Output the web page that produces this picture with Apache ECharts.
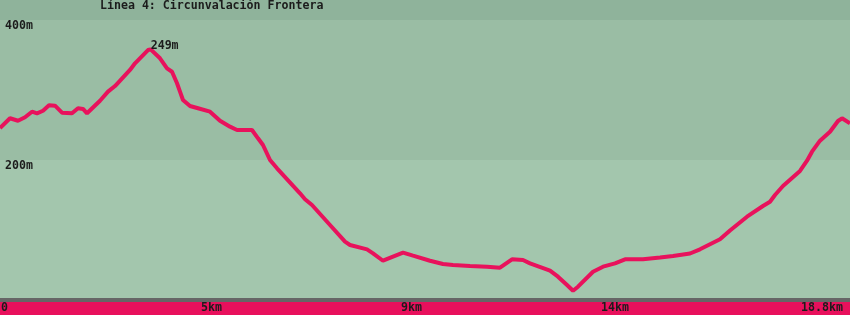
<!DOCTYPE html>
<html>
<head>
<meta charset="utf-8">
<script src="https://cdn.jsdelivr.net/npm/echarts@6/dist/echarts.min.js"></script>
<style>
html,body{margin:0;padding:0;background:#e8105c;}
#chart{width:850px;height:315px;}
</style>
</head>
<body>
<div id="chart"></div>
<script>
// Title
const chartTitle = 'Línea 4: Circunvalación Frontera';
// Distance along route (km)
const distanceKm = [0,0.235,0.423,0.588,0.752,0.870,1.011,1.152,1.293,1.457,1.692,1.833,1.951,2.045,2.35,2.538,2.703,3.055,3.173,3.478,3.541,3.76,3.925,4.042,4.16,4.23,4.30,4.465,4.653,4.935,5.17,5.405,5.57,5.922,6.063,6.18,6.345,6.51,7.05,7.168,7.332,7.755,8.108,8.225,8.625,8.766,9.0,9.471,9.706,10.105,10.41,10.646,11.045,11.445,11.75,12.032,12.29,12.455,12.925,13.113,13.325,13.466,13.583,13.936,14.171,14.453,14.688,15.111,15.51,15.816,16.215,16.45,16.92,17.155,17.555,17.93,18.095,18.213,18.40,18.8,18.965,19.082,19.27,19.505,19.693,19.787,19.975];
// Elevation (m)
const elevationM = [245.7,259.6,256.1,261.0,269.0,266.7,270.4,278.1,277.6,267.6,266.7,273.9,272.9,266.7,284.7,297.6,305.7,328.6,338.1,357.1,358.1,345.3,331.0,326.1,309.6,297.6,285.7,277.1,273.9,269.0,256.1,247.6,242.9,242.9,231.0,221.4,200,188.1,152.4,143.9,135.7,107.1,83.3,78.6,72.4,66.7,56.1,67.6,63.3,56.1,51.4,50,48.6,47.6,46.1,58.1,57.1,52.4,41.9,33.3,21.4,13.3,19.0,40.4,47.6,52.4,58.1,58.1,60.7,62.9,66.4,72.4,86.7,99.3,119.0,134.3,140.4,150,162.9,184.3,199.0,211.9,227.6,240.4,255.7,259.6,252.4];
// X tick labels
const xTickValues = [0, 4.7, 9.4, 14.1, 18.8];
const xTickLabels = ['0', '5km', '9km', '14km', '18.8km'];
// Y tick labels
const yTickValues = [200, 400];
const yTickLabels = ['200m', '400m'];
// Peak annotation
const peakLabel = '249m';

const font = 'DejaVu Sans Mono';
const textColor = '#1c1c1c';

let peakIdx = 0;
elevationM.forEach((v, i) => { if (v > elevationM[peakIdx]) peakIdx = i; });

const chart = echarts.init(document.getElementById('chart'), null, {renderer: 'canvas'});
chart.setOption({
  animation: false,
  backgroundColor: '#e8105c',
  title: {
    text: chartTitle,
    left: 100, top: 0, padding: 0,
    textStyle: {fontFamily: font, fontWeight: 'bold', fontSize: 11.6, color: textColor}
  },
  grid: {left: 0, right: 0, top: 0, bottom: 15, containLabel: false, outerBoundsMode: 'none'},
  xAxis: {
    type: 'value',
    min: 0, max: 19.975, interval: 4.7,
    axisLine: {show: true, lineStyle: {color: '#666666', width: 4}},
    axisTick: {show: false},
    splitLine: {show: false},
    axisLabel: {
      show: true, margin: 2, align: 'left', showMaxLabel: false, padding: [0, 0, 0, 1],
      fontFamily: font, fontWeight: 'bold', fontSize: 11.6, color: textColor,
      formatter: v => {
        const i = xTickValues.findIndex(t => Math.abs(t - v) < 0.01);
        return i >= 0 ? xTickLabels[i] : '';
      }
    }
  },
  yAxis: {
    type: 'value',
    min: 0, max: 428.5714, interval: 200,
    axisLine: {show: false},
    axisTick: {show: false},
    splitLine: {show: false},
    splitArea: {show: true, areaStyle: {color: ['#a3c6ad', '#9abda4', '#8fb39b']}},
    axisLabel: {
      show: true, inside: true, margin: 5, verticalAlign: 'top',
      fontFamily: font, fontWeight: 'bold', fontSize: 11.6, color: textColor,
      formatter: v => {
        const i = yTickValues.findIndex(t => Math.abs(t - v) < 0.01);
        return i >= 0 ? yTickLabels[i] : '';
      }
    }
  },
  series: [{
    type: 'line',
    data: distanceKm.map((d, i) => [d, elevationM[i]]),
    showSymbol: false,
    smooth: false,
    lineStyle: {color: '#e8125c', width: 4},
    z: 3,
    markPoint: {
      symbol: 'circle', symbolSize: 0,
      data: [{coord: [distanceKm[peakIdx], elevationM[peakIdx]], value: peakLabel}],
      label: {
        show: true, position: [0, 0], align: 'left', verticalAlign: 'bottom', offset: [0, 3],
        fontFamily: font, fontWeight: 'bold', fontSize: 11.6, color: textColor,
        formatter: () => peakLabel
      }
    }
  }]
});
</script>
</body>
</html>
